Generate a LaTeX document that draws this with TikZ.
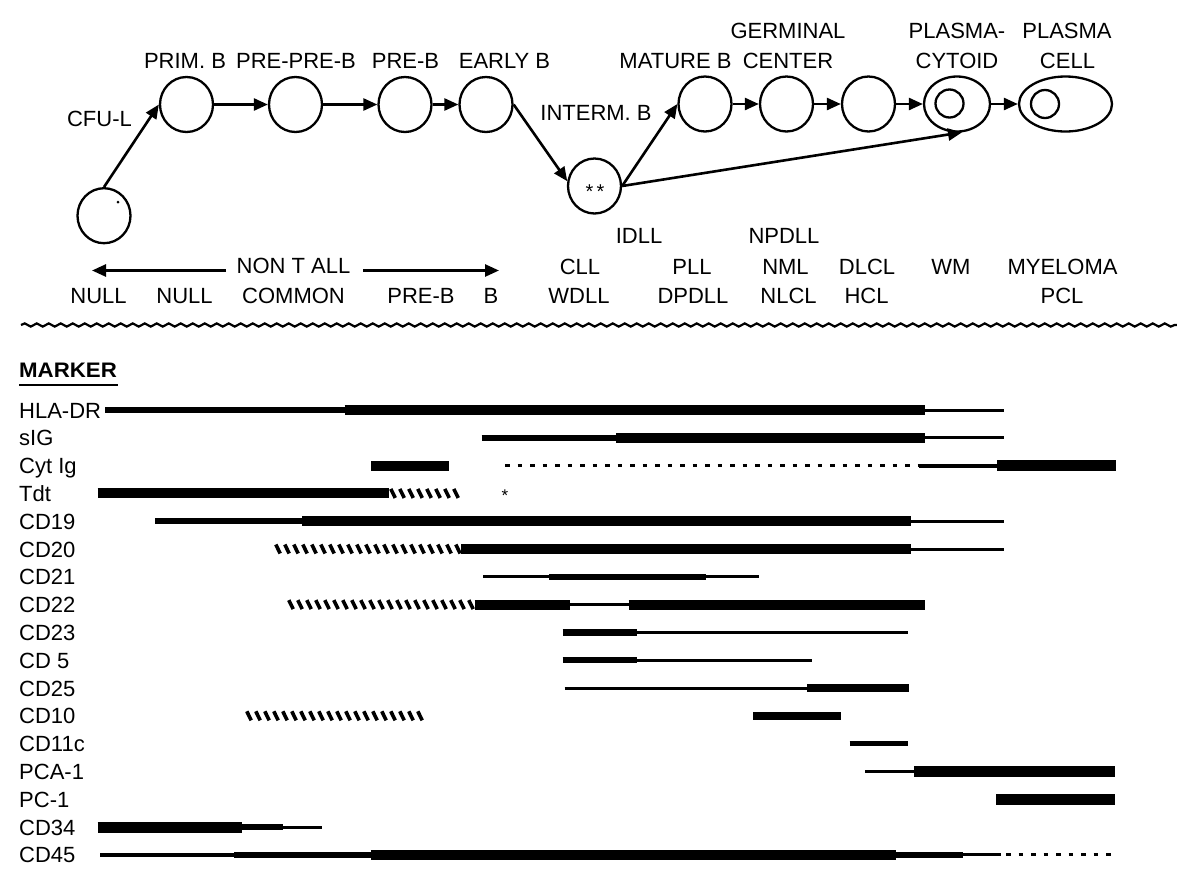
\documentclass[tikz,border=0pt]{standalone}
\usepackage{fontspec}
\setmainfont{Liberation Sans}
\usetikzlibrary{arrows.meta,shapes.geometric,decorations.pathmorphing}
\tikzset{
 lbl/.style={font=\fontsize{22}{26}\selectfont, inner sep=0pt, anchor=base},
 mlbl/.style={font=\fontsize{22}{26}\selectfont, inner sep=0pt, anchor=base west},
 cell/.style={ellipse, draw, line width=2.3pt, minimum width=53pt, minimum height=55pt, inner sep=0pt},
 nuc/.style={circle, draw, line width=2.3pt, minimum size=28pt, inner sep=0pt},
 arr/.style={line width=2.6pt, -{Triangle[length=14pt,width=12pt]}},
 bthin/.style={line width=3pt},
 bmed/.style={line width=6.5pt},
 bthick/.style={line width=10pt},
 bxthick/.style={line width=11pt},
 bdot/.style={line width=3.2pt, dash pattern=on 4.5pt off 8pt},
 hstroke/.style={line width=3.6pt},
}
\newcommand\hatchbar[3]{%
 \pgfmathsetmacro\hsec{#1+9}%
 \foreach \hx in {#1,\hsec,...,#2}{\draw[hstroke] ({\hx-2.2},{#3-4.5}) -- ({\hx+2.2},{#3+4.5});}}
\begin{document}
\begin{tikzpicture}[x=1pt,y=-1pt]
\useasboundingbox (0,0) rectangle (1177,887);
\fill[white] (0,0) rectangle (1177,887);

% cells
\node[cell] (cfu) at (104,215.7) {};
\node[cell] (prim) at (186.5,104.5) {};
\node[cell] (ppb) at (295.5,104.5) {};
\node[cell] (preb) at (405,104.5) {};
\node[cell] (early) at (486,104.5) {};
\node[cell] (im) at (594.5,186) {};
\node[cell] (mat) at (705,104) {};
\node[cell] (gc) at (786.5,104) {};
\node[cell] (c3) at (868.5,104) {};
\node[cell, minimum width=66pt] (pc) at (957,104) {};
\node[cell, minimum width=93pt] (pcell) at (1065.5,104) {};
\node[nuc] (pcn) at (949.5,103.5) {};
\node[nuc] (pcelln) at (1045,104) {};
\fill (118,202) circle (1.5);
\node[font=\fontsize{20}{22}\selectfont, inner sep=0pt] (stars) at (595,192) {*\,*};

% arrows
\draw[arr] (cfu.north) -- (prim.west);
\draw[arr] (prim.east) -- (ppb.west);
\draw[arr] (ppb.east) -- (preb.west);
\draw[arr] (preb.east) -- (early.west);
\draw[arr] (early.east) -- (im.170);
\draw[arr] (im.east) -- (mat.west);
\draw[arr] (im.east) -- (pc.-80);
\draw[arr] (mat.east) -- (gc.west);
\draw[arr] (gc.east) -- (c3.west);
\draw[arr] (c3.east) -- (pc.west);
\draw[arr] (pc.east) -- (pcell.west);

% top labels
\node[lbl] (t1) at (788,38) {GERMINAL};
\node[lbl] (t2) at (957,38) {PLASMA-};
\node[lbl] (t3) at (1067,38) {PLASMA};
\node[lbl] (t4) at (185,68) {PRIM. B};
\node[lbl] (t5) at (296,68) {PRE-PRE-B};
\node[lbl] (t6) at (405.5,68) {PRE-B};
\node[lbl] (t7) at (504.5,68) {EARLY B};
\node[lbl] (t8) at (675.5,68) {MATURE B};
\node[lbl] (t9) at (788,68) {CENTER};
\node[lbl] (t10) at (957,68) {CYTOID};
\node[lbl] (t11) at (1067.5,68) {CELL};
\node[lbl] (t12) at (99.5,126.5) {CFU-L};
\node[lbl] (t13) at (596,120.5) {INTERM. B};

% disease labels
\node[lbl] (d1) at (639,243) {IDLL};
\node[lbl] (d2) at (784,243) {NPDLL};
\node[lbl] (nta) at (293.5,273) {NON T ALL};
\node[lbl] (d3) at (580,274) {CLL};
\node[lbl] (d4) at (692,274) {PLL};
\node[lbl] (d5) at (785.5,274) {NML};
\node[lbl] (d6) at (867,274) {DLCL};
\node[lbl] (d7) at (951,274) {WM};
\node[lbl] (d8) at (1062.5,274) {MYELOMA};
\node[lbl] (e1) at (98.5,303) {NULL};
\node[lbl] (e2) at (184.5,303) {NULL};
\node[lbl] (e3) at (293.5,303) {COMMON};
\node[lbl] (e4) at (421,303) {PRE-B};
\node[lbl] (e5) at (491,303) {B};
\node[lbl] (e6) at (579,303) {WDLL};
\node[lbl] (e7) at (693,303) {DPDLL};
\node[lbl] (e8) at (788.5,303) {NLCL};
\node[lbl] (e9) at (866.5,303) {HCL};
\node[lbl] (e10) at (1062,303) {PCL};
\coordinate (la1) at (226,270.5);
\coordinate (la2) at (92,270.5);
\coordinate (ra1) at (363,270.5);
\coordinate (ra2) at (499,270.5);
\draw[arr] (la1) -- (la2);
\draw[arr] (ra1) -- (ra2);

% wavy separator
\draw[line width=2.2pt, decorate, decoration={snake, segment length=12pt, amplitude=1.6pt}] (21,325) -- (1177,325);

% marker header
\node[font=\bfseries\fontsize{21}{24}\selectfont, anchor=base west, inner sep=0pt] (mk) at (19,377.5) {\scalebox{1.06}[1]{MARKER}};
\draw[line width=2.2pt] (19,385) -- (118,385);

% marker labels
\foreach \t/\yy [count=\i] in {HLA-DR/410, sIG/437.8, Cyt Ig/465.6, Tdt/493.4, CD19/521.2, CD20/549, CD21/576.8, CD22/604.6, CD23/632.4, CD 5/660.2, CD25/688, CD10/715.8, CD11c/743.6, PCA-1/771.4, PC-1/799.2, CD34/827, CD45/854.8}
 {\node[mlbl] (m\i) at (19,\yy+8) {\t};}

% HLA-DR
\draw[bmed] (105,410) -- (344.5,410);
\draw[bthick] (344.5,410) -- (924.5,410);
\draw[bthin] (924.5,410) -- (1004,410);
% sIG
\draw[bmed] (481.5,437.8) -- (616,437.8);
\draw[bthick] (616,437.8) -- (924.5,437.8);
\draw[bthin] (924.5,437.8) -- (1004,437.8);
% Cyt Ig
\draw[bthick] (371,465.6) -- (448.5,465.6);
\draw[bdot] (505,465.6) -- (919,465.6);
\draw[line width=3.8pt] (919,465.6) -- (997,465.6);
\draw[bxthick] (997,465.6) -- (1116,465.6);
% Tdt
\draw[bthick] (97.6,493.4) -- (388.5,493.4);
\hatchbar{393}{459}{493.4}
\node[font=\fontsize{17}{18}\selectfont, inner sep=0pt] (ast) at (505,496) {*};
% CD19
\draw[bmed] (155,521.2) -- (302,521.2);
\draw[bthick] (302,521.2) -- (911,521.2);
\draw[bthin] (911,521.2) -- (1003.5,521.2);
% CD20
\hatchbar{278}{459}{549}
\draw[bthick] (461,549) -- (910.5,549);
\draw[bthin] (910.5,549) -- (1003.5,549);
% CD21
\draw[bthin] (483,576.8) -- (549,576.8);
\draw[bmed] (549,576.8) -- (705.7,576.8);
\draw[bthin] (705.7,576.8) -- (759,576.8);
% CD22
\hatchbar{291}{471}{604.6}
\draw[bthick] (474.5,604.6) -- (570,604.6);
\draw[bthin] (570,604.6) -- (628.7,604.6);
\draw[bthick] (628.7,604.6) -- (924.6,604.6);
% CD23
\draw[line width=7pt] (562.6,632.4) -- (637,632.4);
\draw[bthin] (637,632.4) -- (907.5,632.4);
% CD 5
\draw[bmed] (562.6,660.2) -- (637,660.2);
\draw[bthin] (637,660.2) -- (812.3,660.2);
% CD25
\draw[bthin] (564.5,688) -- (807,688);
\draw[line width=8pt] (807,688) -- (909.4,688);
% CD10
\hatchbar{249}{420}{715.8}
\draw[line width=8.5pt] (753,715.8) -- (841,715.8);
% CD11c
\draw[line width=4.5pt] (849.6,743.6) -- (907.5,743.6);
% PCA-1
\draw[bthin] (865,771.4) -- (914,771.4);
\draw[bxthick] (914,771.4) -- (1115,771.4);
% PC-1
\draw[bxthick] (996,799.2) -- (1115,799.2);
% CD34
\draw[bxthick] (97.6,827) -- (242,827);
\draw[bmed] (242,827) -- (283,827);
\draw[bthin] (283,827) -- (321.5,827);
% CD45
\draw[line width=3.5pt] (100,854.8) -- (234,854.8);
\draw[bmed] (234,854.8) -- (370.5,854.8);
\draw[bthick] (370.5,854.8) -- (896,854.8);
\draw[bmed] (896,854.8) -- (962.7,854.8);
\draw[bthin] (962.7,854.8) -- (1000.8,854.8);
\draw[bdot] (1006,854.8) -- (1111,854.8);
\end{tikzpicture}
\end{document}
